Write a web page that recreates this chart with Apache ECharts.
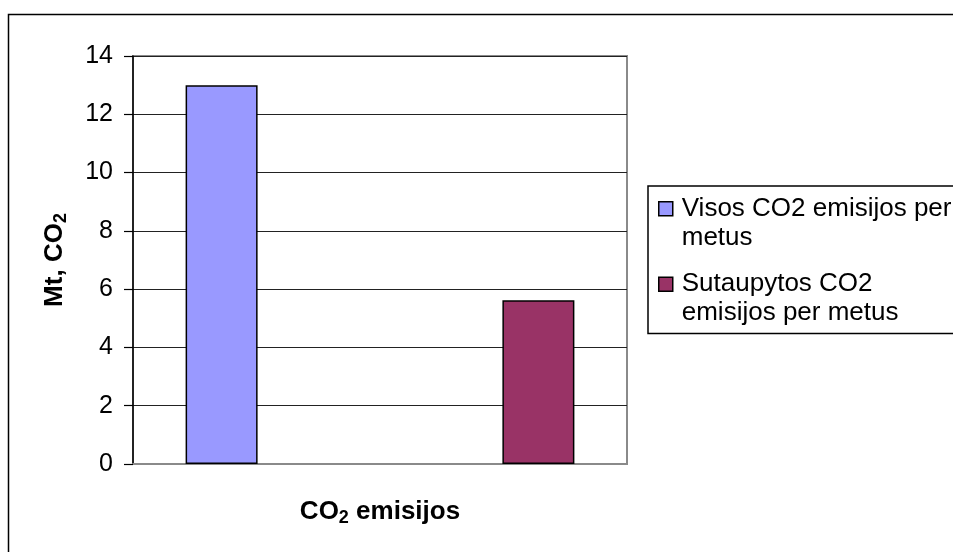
<!DOCTYPE html>
<html>
<head>
<meta charset="utf-8">
<script src="https://cdn.jsdelivr.net/npm/echarts@6/dist/echarts.min.js"></script>
<style>
html,body{margin:0;padding:0;background:#fff;}
#chart{width:953px;height:552px;}
</style>
</head>
<body>
<div id="chart"></div>
<script>
// ---- data ----
var categories = ['CO2 emisijos'];
var seriesNames = ['Visos CO2 emisijos per metus', 'Sutaupytos CO2 emisijos per metus'];
var seriesValues = [[13.0], [5.62]];
var seriesColors = ['#9999FF', '#993366'];
var yTicks = {min: 0, max: 14, interval: 2};
var yTitle = '{b|Mt, CO}{s|2}';
var xTitle = '{b|CO}{s|2}{b| emisijos}';

var FONT = '"Liberation Sans", Arial, sans-serif';
var titleRich = {
  b: {fontSize: 26, fontWeight: 'bold', fontFamily: FONT, color: '#000', lineHeight: 30},
  s: {fontSize: 18, fontWeight: 'bold', fontFamily: FONT, color: '#000', lineHeight: 17, verticalAlign: 'bottom'}
};

var chart = echarts.init(document.getElementById('chart'), null, {renderer: 'canvas'});
var series = seriesNames.map(function (n, i) {
  return {
    name: n,
    type: 'bar',
    data: seriesValues[i],
    barWidth: 72,
    barGap: '340%',
    itemStyle: {color: seriesColors[i], borderColor: '#000', borderWidth: 1.5},
    emphasis: {disabled: true}
  };
});

chart.setOption({
  animation: false,
  backgroundColor: '#fff',
  textStyle: {fontFamily: FONT},
  graphic: [{
    type: 'rect',
    shape: {x: 8.5, y: 14.5, width: 1200, height: 1200},
    style: {fill: 'none', stroke: '#000', lineWidth: 1.5},
    silent: true,
    z: 100
  }],
  grid: {
    left: 133, top: 56, width: 494, height: 408,
    show: true, borderColor: '#8a8a8a', borderWidth: 2, backgroundColor: '#fff'
  },
  legend: {
    orient: 'vertical',
    left: 648, top: 186,
    padding: [7.5, 20, 5, 10],
    borderColor: '#000', borderWidth: 1.5,
    backgroundColor: '#fff',
    itemGap: 16,
    itemWidth: 18, itemHeight: 58,
    icon: 'path://M0,0 M0,7.5 L14,7.5 L14,21.5 L0,21.5 Z M18,58',
    itemStyle: {borderColor: '#000', borderWidth: 1.5},
    textStyle: {fontSize: 26, color: '#000', fontFamily: FONT, lineHeight: 29, width: 280, overflow: 'break'},
    selectedMode: false,
    data: seriesNames
  },
  xAxis: {
    type: 'category',
    data: categories,
    name: xTitle,
    nameLocation: 'middle',
    nameGap: 33,
    nameTextStyle: {rich: titleRich},
    axisLine: {show: true, lineStyle: {color: '#8a8a8a', width: 2}},
    axisTick: {show: false},
    axisLabel: {show: false},
    splitLine: {show: false}
  },
  yAxis: {
    type: 'value',
    min: yTicks.min, max: yTicks.max, interval: yTicks.interval,
    name: yTitle,
    nameLocation: 'middle',
    nameGap: 63,
    nameTextStyle: {rich: titleRich},
    axisLine: {show: true, lineStyle: {color: '#000', width: 1.5}},
    axisTick: {show: true, length: 9, lineStyle: {color: '#000', width: 1.2}},
    axisLabel: {fontSize: 25, color: '#000', fontFamily: FONT, margin: 20},
    splitLine: {show: true, lineStyle: {color: '#222', width: 1.2}}
  },
  series: series
});
</script>
</body>
</html>
